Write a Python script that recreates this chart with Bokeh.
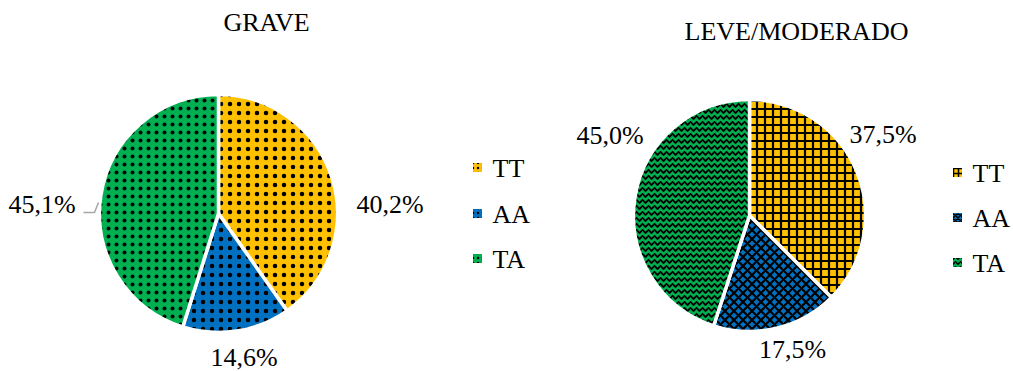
import numpy as np
from bokeh.plotting import figure
from bokeh.models import Range1d
from bokeh.core.properties import value
from bokeh.embed import file_html
from bokeh.resources import INLINE

# ---- data ----
categories = ["TT", "AA", "TA"]
grave_values = [40.2, 14.6, 45.1]
leve_values = [37.5, 17.5, 45.0]
titles = ["GRAVE", "LEVE/MODERADO"]
colors = ["#FFC000", "#0070C0", "#00B050"]

# ---- layout (pixel coords, y from top) ----
W, H = 1013, 371
FONT = value("Liberation Serif")
FS = "26px"
SHIFT = 8  # rendering offset correction

def Y(py):
    return H - py

def TY(py):
    return H - (py - SHIFT)

p = figure(width=W, height=H, x_range=Range1d(0, W), y_range=Range1d(0, H),
           output_backend="svg", toolbar_location=None, min_border=0)
p.axis.visible = False
p.grid.visible = False
p.outline_line_color = None
p.background_fill_color = "white"

def draw_pie(vals, cx, cy, r, patterns, scales, weights):
    v = np.array(vals, dtype=float)
    frac = v / v.sum()
    cum = np.concatenate([[0], np.cumsum(frac)])
    start = np.pi / 2 - 2 * np.pi * cum[:-1]
    end = np.pi / 2 - 2 * np.pi * cum[1:]
    for i in range(len(v)):
        p.wedge(x=cx, y=Y(cy), radius=r, start_angle=start[i], end_angle=end[i],
                direction="clock", fill_color=colors[i], line_color="white",
                line_width=3.5, hatch_pattern=patterns[i], hatch_color="black",
                hatch_scale=scales[i], hatch_weight=weights[i])

def fmt(v):
    return f"{v:.1f}".replace(".", ",") + "%"

# left pie
draw_pie(grave_values, 218, 213, 119, ["dot", "dot", "dot"], [9, 9, 8], [1.7, 1.7, 1.7])
# right pie
draw_pie(leve_values, 749, 215, 116, ["cross", "diagonal_cross", "horizontal_wave"],
         [8, 9, 6], [2.2, 2.2, 1.8])

# titles
p.text(x=[266, 796], y=[TY(30), TY(39)], text=titles, text_font=FONT,
       text_font_size=FS, text_align="center", text_baseline="alphabetic",
       text_color="black")

# data labels
lx_left = [389.5, 243.5, 41.5]
ly_left = [212, 365, 212]
lx_right = [882.5, 792, 609.5]
ly_right = [142, 357, 143]
p.text(x=lx_left, y=[TY(v) for v in ly_left], text=[fmt(v) for v in grave_values],
       text_font=FONT, text_font_size=FS, text_align="center",
       text_baseline="alphabetic", text_color="black")
p.text(x=lx_right, y=[TY(v) for v in ly_right], text=[fmt(v) for v in leve_values],
       text_font=FONT, text_font_size=FS, text_align="center",
       text_baseline="alphabetic", text_color="black")

# leader line for 45,1%
p.line(x=[83, 94, 98], y=[Y(212), Y(212), Y(202)], line_color="#A6A6A6", line_width=1.5)

# legends
def legend(x0, ys, patterns, scale):
    for i, cat in enumerate(categories):
        p.scatter(x=[x0], y=[Y(ys[i])], marker="square", size=9, fill_color=colors[i],
                  line_color=None, hatch_pattern=patterns[i], hatch_color="black",
                  hatch_scale=scale, hatch_weight=1.5)
        p.text(x=[x0 + 15], y=[TY(ys[i] + 9)], text=[cat], text_font=FONT,
               text_font_size=FS, text_align="left", text_baseline="alphabetic",
               text_color="black")

legend(477, [167, 213, 258], ["dot", "dot", "dot"], 5)
legend(957, [172, 217, 262], ["cross", "diagonal_cross", "horizontal_wave"], 5)

open("out.html", "w").write(file_html(p, INLINE))
